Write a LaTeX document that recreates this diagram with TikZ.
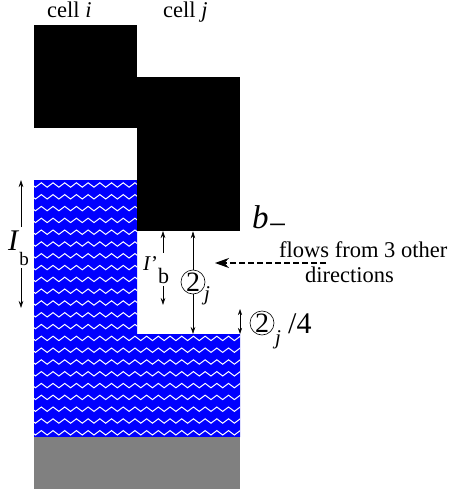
\documentclass[tikz,border=0pt]{standalone}
\usepackage{fontspec}
\setmainfont{Liberation Serif}
\usetikzlibrary{arrows.meta,decorations.pathmorphing}
\begin{document}
\begin{tikzpicture}[x=1pt,y=-1pt,
  dim/.style={-{Stealth[length=7pt,width=4.5pt]},line width=0.6pt},
  dimboth/.style={{Stealth[length=6pt,width=4pt]}-{Stealth[length=6pt,width=4pt]},line width=0.6pt},
  flow/.style={-{Stealth[length=14pt,width=10pt]},line width=1.6pt,dash pattern=on 6pt off 3pt},
  block/.style={fill=black,inner sep=0pt,anchor=north west},
  txt/.style={font=\fontsize{22.5}{24}\selectfont,inner sep=0pt,anchor=base west},
  lbl/.style={anchor=base west,inner sep=3pt},
  circ/.style={circle,draw,line width=0.6pt,inner sep=0pt,minimum size=24pt,font=\fontsize{28}{28}\selectfont},
  sub/.style={font=\fontsize{21}{21}\selectfont,inner sep=0pt,anchor=base west},
  wave/.style={white,line width=1pt,decorate,decoration={zigzag,segment length=11.7pt,amplitude=2.2pt}}]
\useasboundingbox (0,0) rectangle (451,492);
% water
\begin{scope}
  \clip (34,180) -- (137,180) -- (137,334) -- (240,334) -- (240,437) -- (34,437) -- cycle;
  \fill[blue] (30,175) rectangle (245,440);
  \foreach \k in {0,...,21}
    \draw[wave] (26.7,{185+11.8*\k}) -- (255,{185+11.8*\k});
\end{scope}
% ground
\fill[gray] (34,437) rectangle (240,489);
% cells
\node[block,minimum width=103pt,minimum height=103pt] (celli) at (34,25) {};
\node[block,minimum width=103pt,minimum height=154pt] (cellj) at (137,77) {};
\node[txt] (li) at (47,18) {cell \textit{i}};
\node[txt] (lj) at (163,18) {cell \textit{j}};
% b_-
\node[txt,font=\fontsize{33}{34}\selectfont] (bm) at (252,228) {\textit{b}\raisebox{-7pt}{\fontsize{32}{32}\selectfont −}};
% I_b
\node[lbl] (Ib) at (5,250) {\fontsize{30}{30}\selectfont\textit{I}\raisebox{-15pt}{\fontsize{19}{19}\selectfont b}};
\coordinate (IbT) at (21,180);
\coordinate (IbB) at (21,308);
\draw[dim] (Ib.north -| IbT) -- (IbT);
\draw[dim] (Ib.south -| IbB) -- (IbB);
% I'_b
\node[lbl] (Ipb) at (140,270) {\fontsize{21}{21}\selectfont\textit{I}'\raisebox{-13pt}{\fontsize{22}{22}\selectfont b}};
\coordinate (IpT) at (163,231);
\coordinate (IpB) at (163,305);
\draw[dim] (Ipb.north -| IpT) -- (IpT);
\draw[dim] (Ipb.south -| IpB) -- (IpB);
% circled 2_j
\coordinate (wstep) at (240,334);
\node[circ] (c2) at (193,282) {2};
\node[sub] (c2j) at (204,300) {\textit{j}};
\draw[dim] (c2.north) -- (c2.north |- cellj.south);
\draw[dim] (c2.south) -- (c2.south |- wstep);
% circled 2_j / 4
\coordinate (sT) at (240,309);
\draw[dimboth] (sT) -- (wstep);
\node[circ] (c4) at (262,323) {2};
\node[sub] (c4j) at (275,344) {\textit{j}};
\node[txt,font=\fontsize{30}{30}\selectfont] (q4) at (288,333) {/4};
% flows
\coordinate (fs) at (326,263);
\coordinate (fe) at (215,263);
\draw[flow] (fs) -- (fe);
\node[txt] (f1) at (279,257) {flows from 3 other};
\node[txt] (f2) at (305,282) {directions};
\end{tikzpicture}
\end{document}
